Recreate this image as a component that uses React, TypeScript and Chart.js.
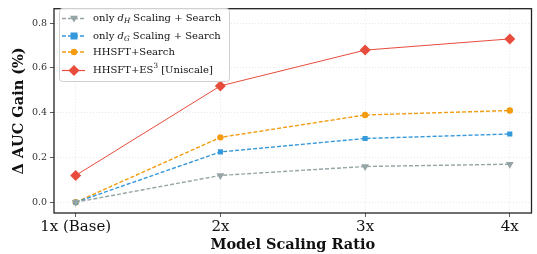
import React, { useEffect, useRef } from "react";
import { Chart, registerables } from "chart.js";

Chart.register(...registerables);

const categories = ["1x (Base)", "2x", "3x", "4x"];
const dHValues = [0.0, 0.12, 0.16, 0.17];
const dGValues = [0.0, 0.225, 0.285, 0.305];
const hhsftSearch = [0.0, 0.29, 0.39, 0.41];
const hhsftES3 = [0.12, 0.52, 0.68, 0.73];
const yTicks = [0, 0.2, 0.4, 0.6, 0.8];

const FONT = "'DejaVu Serif', serif";

type LegendItem = {
  color: string;
  dash: number[];
  lw: number;
  marker: string;
  size: number;
  parts: { t: string; style?: string; sub?: boolean; sup?: boolean }[];
};

const legendItems: LegendItem[] = [
  {
    color: "#95a5a6", dash: [4, 2], lw: 1.4, marker: "tri", size: 4,
    parts: [{ t: "only " }, { t: "d", style: "italic" }, { t: "H", style: "italic", sub: true }, { t: " Scaling + Search" }],
  },
  {
    color: "#3498db", dash: [4, 2], lw: 1.4, marker: "sq", size: 3.5,
    parts: [{ t: "only " }, { t: "d", style: "italic" }, { t: "G", style: "italic", sub: true }, { t: " Scaling + Search" }],
  },
  { color: "#f39c12", dash: [4, 2], lw: 1.4, marker: "circ", size: 3.2, parts: [{ t: "HHSFT+Search" }] },
  {
    color: "#e74c3c", dash: [], lw: 1.2, marker: "dia", size: 5.5,
    parts: [{ t: "HHSFT+ES" }, { t: "3", sup: true }, { t: " [Uniscale]" }],
  },
];

function drawMarker(ctx: CanvasRenderingContext2D, m: string, x: number, y: number, s: number, color: string) {
  ctx.save();
  ctx.fillStyle = color;
  ctx.setLineDash([]);
  ctx.beginPath();
  if (m === "tri") {
    ctx.moveTo(x - s, y - s * 0.7);
    ctx.lineTo(x + s, y - s * 0.7);
    ctx.lineTo(x, y + s);
    ctx.closePath();
  } else if (m === "sq") {
    ctx.rect(x - s, y - s, 2 * s, 2 * s);
  } else if (m === "circ") {
    ctx.arc(x, y, s, 0, Math.PI * 2);
  } else {
    ctx.moveTo(x, y - s);
    ctx.lineTo(x + s, y);
    ctx.lineTo(x, y + s);
    ctx.lineTo(x - s, y);
    ctx.closePath();
  }
  ctx.fill();
  ctx.restore();
}

const framePlugin = {
  id: "frameLegend",
  afterDraw(chart: any) {
    const ctx: CanvasRenderingContext2D = chart.ctx;
    const a = chart.chartArea;
    ctx.save();
    ctx.strokeStyle = "#222";
    ctx.lineWidth = 1.3;
    ctx.strokeRect(a.left, a.top, a.right - a.left, a.bottom - a.top);

    // legend box
    const bx = 59, by = 8, bw = 170, bh = 73;
    ctx.fillStyle = "rgba(255,255,255,0.85)";
    ctx.strokeStyle = "#d0d0d0";
    ctx.lineWidth = 1;
    ctx.beginPath();
    (ctx as any).roundRect(bx + 0.5, by + 0.5, bw, bh, 3);
    ctx.fill();
    ctx.stroke();

    const rows = [18.5, 36, 52, 70.5];
    legendItems.forEach((it, i) => {
      const y = rows[i];
      ctx.save();
      ctx.strokeStyle = it.color;
      ctx.lineWidth = it.lw;
      ctx.setLineDash(it.dash);
      ctx.beginPath();
      ctx.moveTo(62, y);
      ctx.lineTo(85, y);
      ctx.stroke();
      ctx.restore();
      drawMarker(ctx, it.marker, 74, y, it.size, it.color);
      let x = 93;
      ctx.fillStyle = "#111";
      ctx.textBaseline = "middle";
      ctx.textAlign = "left";
      for (const p of it.parts) {
        const small = p.sub || p.sup;
        ctx.font = `${p.style ?? "normal"} ${small ? 7.2 : 10}px ${FONT}`;
        const dy = p.sub ? 3 : p.sup ? -4 : 0;
        ctx.fillText(p.t, x, y + dy);
        x += ctx.measureText(p.t).width;
      }
    });
    ctx.restore();
  },
};

export default function App() {
  const ref = useRef<HTMLCanvasElement>(null);
  useEffect(() => {
    document.body.style.margin = "0";
    const mk = (label: string, data: number[], color: string, style: string, r: number, dash: number[], lw: number, rot = 0) => ({
      label,
      data: data.map((v, i) => ({ x: i, y: v })),
      borderColor: color,
      backgroundColor: color,
      pointStyle: style,
      pointRadius: r,
      pointRotation: rot,
      pointBorderWidth: 0,
      borderDash: dash,
      borderWidth: lw,
      tension: 0,
    });
    const chart = new Chart(ref.current!, {
      type: "line",
      data: {
        datasets: [
          mk("only dH Scaling + Search", dHValues, "#95a5a6", "triangle", 4.5, [4, 2], 1.4, 180),
          mk("only dG Scaling + Search", dGValues, "#3498db", "rect", 3.6, [4, 2], 1.4),
          mk("HHSFT+Search", hhsftSearch, "#f39c12", "circle", 3.2, [4, 2], 1.4),
          mk("HHSFT+ES3 [Uniscale]", hhsftES3, "#e74c3c", "rectRot", 5.5, [], 1.0),
        ] as any,
      },
      options: {
        animation: false,
        responsive: false,
        layout: { padding: { top: 4, right: 5, left: 0, bottom: 0 } },
        plugins: { legend: { display: false }, tooltip: { enabled: false } },
        scales: {
          x: {
            type: "linear",
            min: -0.15,
            max: 3.15,
            afterBuildTicks: (s: any) => { s.ticks = categories.map((_, i) => ({ value: i })); },
            afterFit: (s: any) => { s.height = 41; },
            ticks: {
              callback: (v: any) => categories[v as number] ?? "",
              font: { family: FONT, size: 15 },
              color: "#111",
              padding: 1,
              maxRotation: 0,
            },
            grid: { color: "rgba(0,0,0,0.12)", tickColor: "#333", tickLength: 4, lineWidth: 0.8 },
            border: { dash: [1, 2], display: false },
            title: { display: true, text: "Model Scaling Ratio", font: { family: FONT, size: 14.5, weight: "bold" }, color: "#111", padding: { top: 0, bottom: 0 } },
          },
          y: {
            min: -0.048,
            max: 0.865,
            afterBuildTicks: (s: any) => { s.ticks = yTicks.map((v) => ({ value: v })); },
            afterFit: (s: any) => { s.width = 54; },
            ticks: {
              callback: (v: any) => Number(v).toFixed(1),
              font: { family: FONT, size: 9.5 },
              color: "#333",
              padding: 3,
            },
            grid: { color: "rgba(0,0,0,0.12)", tickColor: "#333", tickLength: 4, lineWidth: 0.8 },
            border: { dash: [1, 2], display: false },
            title: { display: true, text: "Δ AUC Gain (%)", font: { family: FONT, size: 14.5, weight: "bold" }, color: "#111", padding: { top: 11, bottom: 0 } },
          },
        },
      } as any,
      plugins: [framePlugin],
    });
    return () => chart.destroy();
  }, []);
  return (
    <div style={{ position: "fixed", left: 0, top: 0, width: 537, height: 254, background: "#fff" }}>
      <canvas ref={ref} width={537} height={254} style={{ width: 537, height: 254 }} />
    </div>
  );
}
